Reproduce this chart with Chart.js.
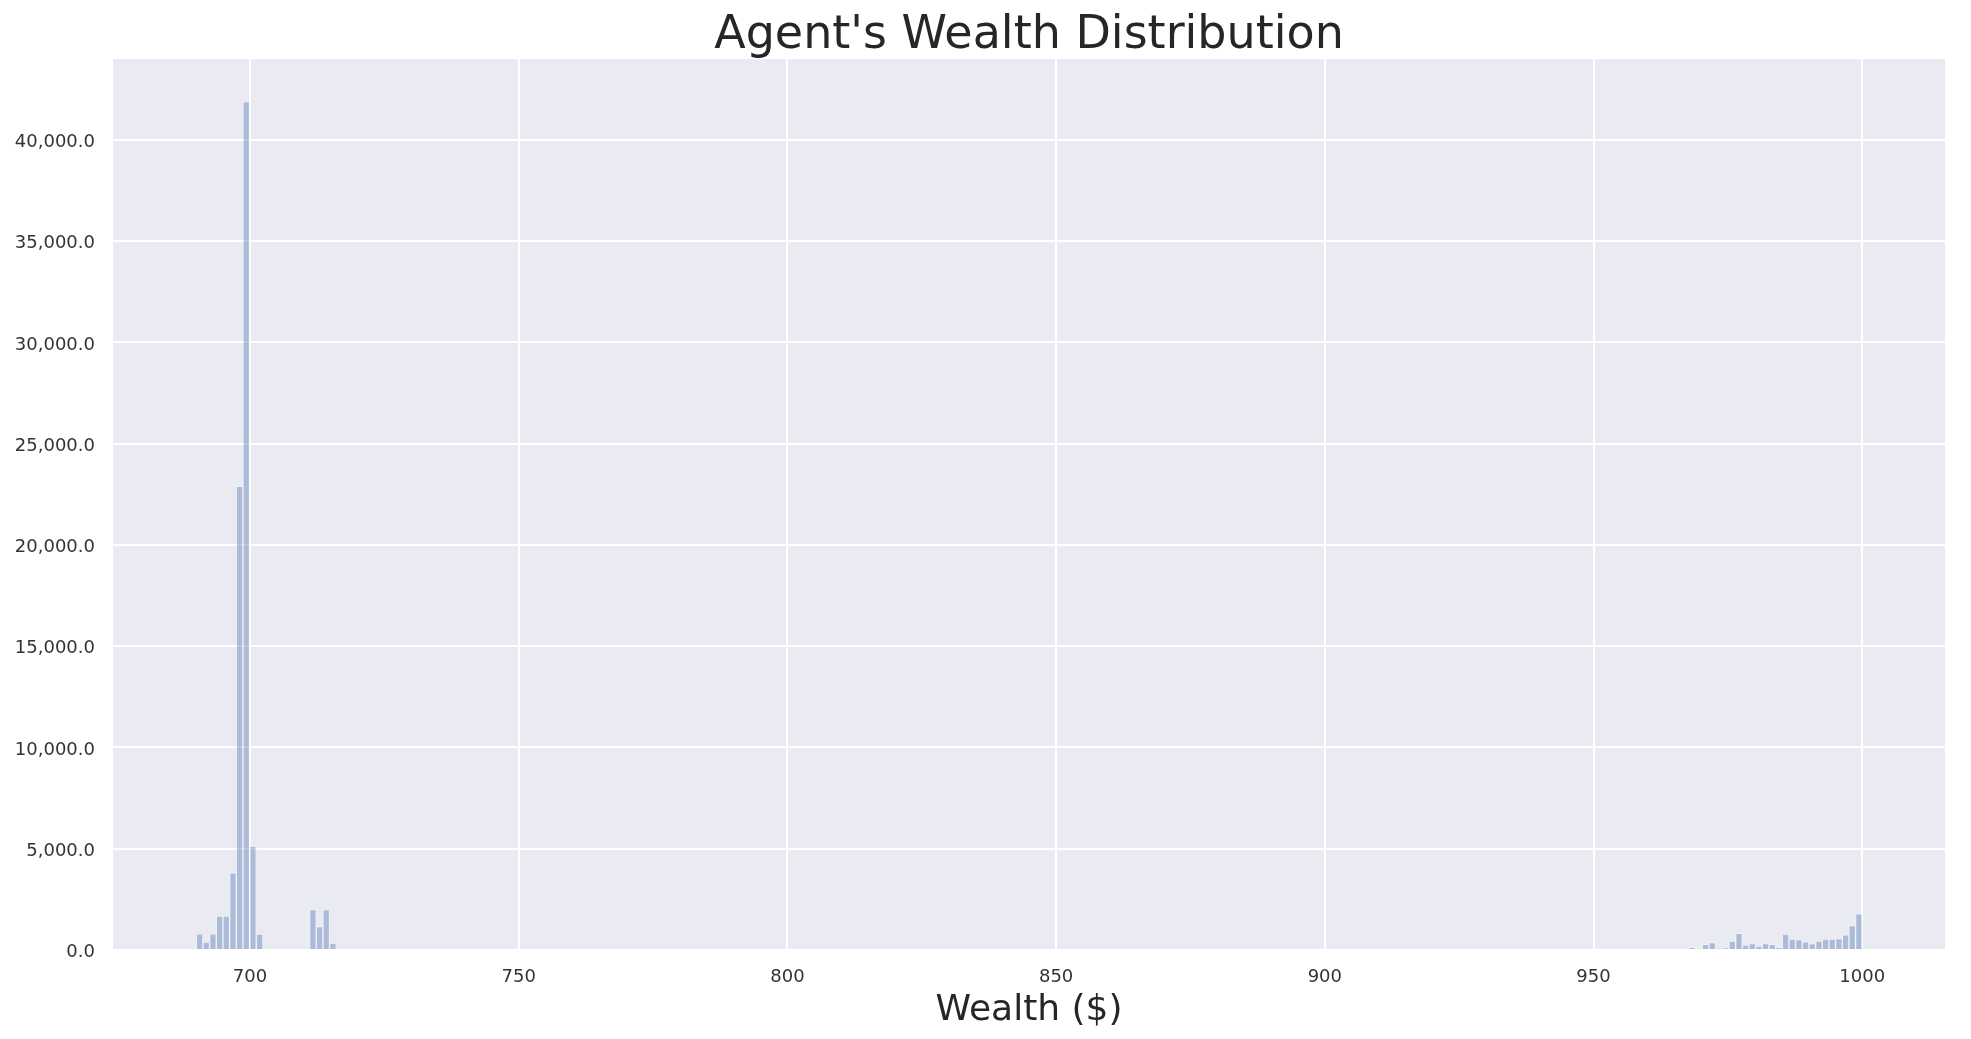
<!DOCTYPE html>
<html lang="en">
<head>
    <meta charset="UTF-8">
    <title>Agent's Wealth Distribution</title>
    <script src="https://cdn.jsdelivr.net/npm/chart.js"></script>
    <style>
        body { margin: 0; background: #fff; }
        #wrap { width: 1971px; height: 1039px; }
    </style>
</head>
<body>
<div id="wrap"><canvas id="histChart" width="1971" height="1039"></canvas></div>
<script>
    // histogram bins: 250 bins from 690 to 1000
    const binStart = 690.0;
    const binWidth = 1.24;

    // counts for bins 0..20 (low cluster)
    const lowStartBin = 0;
    const lowCounts = [800, 385, 800, 1670, 1670, 3810, 22900, 41900, 5130, 780,
                       0, 0, 0, 0, 0, 0, 0, 2000, 1160, 2000, 340];

    // counts for bins 224..249 (high cluster)
    const highStartBin = 224;
    const highCounts = [120, 0, 275, 365, 55, 85, 435, 825, 240, 320, 195, 315, 275, 115,
                        790, 540, 515, 400, 315, 440, 540, 540, 570, 745, 1210, 1790];

    const xTicks = [700, 750, 800, 850, 900, 950, 1000];
    const yTicks = [0, 5000, 10000, 15000, 20000, 25000, 30000, 35000, 40000];

    const textColor = "#262626";
    const tickColor = "#333333";

    function binPoints(startBin, counts) {
        return counts.map((c, i) => ({ x: binStart + (startBin + i + 0.5) * binWidth, y: c }));
    }
    const points = binPoints(lowStartBin, lowCounts).concat(binPoints(highStartBin, highCounts));

    const plotBg = {
        id: "plotBg",
        beforeDraw(chart) {
            const { ctx, chartArea } = chart;
            ctx.save();
            ctx.fillStyle = "#EAEAF2";
            ctx.fillRect(chartArea.left, chartArea.top, chartArea.right - chartArea.left, chartArea.bottom - chartArea.top);
            ctx.restore();
        }
    };

    new Chart(document.getElementById("histChart").getContext("2d"), {
        type: "bar",
        data: {
            datasets: [{
                data: points,
                backgroundColor: "rgba(76, 114, 176, 0.4)",
                borderColor: "rgba(255, 255, 255, 0.35)",
                borderWidth: 1,
                barPercentage: 1.0,
                categoryPercentage: 1.0
            }]
        },
        options: {
            responsive: false,
            animation: false,
            layout: { padding: { left: 0, right: 26, top: 0, bottom: 0 } },
            plugins: {
                legend: { display: false },
                tooltip: { enabled: false },
                title: {
                    display: true,
                    fullSize: false,
                    text: "Agent's Wealth Distribution",
                    color: textColor,
                    font: { family: "DejaVu Sans", size: 46, weight: "normal", lineHeight: 0.98 },
                    padding: { top: 14, bottom: 0 }
                }
            },
            scales: {
                x: {
                    type: "linear",
                    offset: false,
                    min: 674.5,
                    max: 1015.4,
                    afterBuildTicks(scale) { scale.ticks = xTicks.map(v => ({ value: v })); },
                    afterFit(scale) { scale.height = 89; },
                    grid: { color: "#ffffff", lineWidth: 2, drawTicks: false, offset: false },
                    border: { display: false },
                    ticks: {
                        color: tickColor,
                        padding: 16.5,
                        font: { family: "DejaVu Sans", size: 18 },
                        maxRotation: 0,
                        callback: v => String(v)
                    },
                    title: {
                        display: true,
                        text: "Wealth ($)",
                        color: textColor,
                        font: { family: "DejaVu Sans", size: 36 },
                        padding: { top: 0, bottom: 7 }
                    }
                },
                y: {
                    min: 0,
                    max: 43995,
                    afterBuildTicks(scale) { scale.ticks = yTicks.map(v => ({ value: v })); },
                    afterFit(scale) { scale.width = 113; },
                    grid: { color: "#ffffff", lineWidth: 2, drawTicks: false },
                    border: { display: false },
                    ticks: {
                        color: tickColor,
                        padding: 18,
                        labelOffset: 2.5,
                        font: { family: "DejaVu Sans", size: 18 },
                        callback: v => v.toLocaleString("en-US", { minimumFractionDigits: 1, maximumFractionDigits: 1 })
                    }
                }
            }
        },
        plugins: [plotBg]
    });
</script>
</body>
</html>
